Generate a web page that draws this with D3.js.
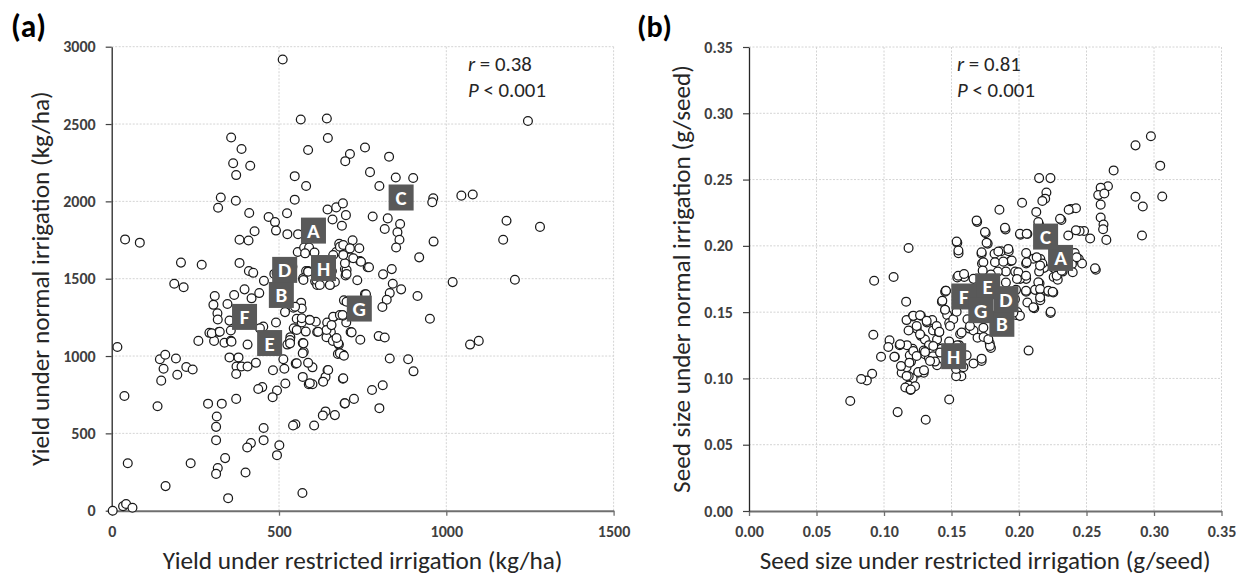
<!DOCTYPE html>
<html><head><meta charset="utf-8">
<script src="https://cdn.jsdelivr.net/npm/d3@7"></script>
<style>
html,body{margin:0;padding:0;background:#fff;}
svg{display:block;font-family:Carlito,Lato,"Open Sans",sans-serif;}
</style></head>
<body><svg id="c" width="1236" height="575"></svg>
<script>
// ---------------- DATA ----------------
// Panel (a): yield under restricted irrigation (x) vs normal irrigation (y), kg/ha
const yieldPoints = [
[511,2917],[565,2529],[643,2536],[646,2410],[1244,2520],[357,2413],[388,2339],[363,2246],[414,2230],[372,2170],
[587,2332],[757,2348],[712,2306],[698,2260],[829,2289],[772,2189],[547,2163],[581,2099],[800,2099],[849,2154],
[901,2151],[326,2025],[318,1959],[371,2004],[411,1925],[524,1923],[547,2011],[645,1947],[671,1961],[691,1987],
[700,1911],[660,1883],[688,1842],[780,1902],[825,1890],[816,1821],[862,1854],[854,1800],[860,1752],[850,1702],
[961,2020],[958,1994],[1045,2037],[1079,2044],[1180,1875],[1170,1752],[1280,1835],[1205,1493],[1019,1478],[962,1740],
[919,1638],[914,1388],[951,1241],[1071,1074],[1097,1098],[886,979],[902,901],[831,984],[798,1129],[816,1120],
[810,811],[778,780],[800,663],[724,723],[696,694],[667,618],[639,642],[631,616],[605,551],[691,853],
[632,837],[645,908],[639,865],[600,927],[589,818],[600,818],[549,559],[542,551],[570,114],[501,423],
[494,359],[454,535],[454,456],[416,437],[405,409],[400,247],[339,340],[329,692],[288,692],[314,609],
[312,542],[312,456],[317,276],[312,238],[348,81],[236,307],[161,159],[48,307],[38,742],[137,675],
[40,1754],[84,1733],[17,1058],[3,0],[34,29],[43,43],[62,19],[207,1604],[269,1590],[187,1467],
[215,1445],[144,979],[160,1008],[155,918],[148,841],[192,984],[196,879],[223,929],[242,913],[259,1098],
[292,1150],[306,1098],[308,1388],[304,1331],[316,1276],[346,1336],[366,1395],[317,1236],[352,1229],[320,1155],
[337,1086],[356,1098],[352,991],[379,991],[373,932],[388,932],[406,932],[431,956],[372,884],[372,723],
[406,1074],[356,1165],[382,1602],[382,1752],[409,1747],[427,1807],[410,1550],[423,1538],[397,1431],[441,1407],
[455,1486],[469,1899],[488,1866],[491,1811],[525,1788],[557,1788],[556,1673],[575,1702],[590,1702],[606,1669],
[581,1550],[587,1550],[572,1502],[540,1578],[486,1531],[608,1483],[614,1460],[653,1460],[667,1479],[658,1550],
[671,1673],[680,1726],[694,1664],[720,1749],[740,1697],[742,1614],[713,1638],[697,1562],[699,1521],[734,1490],
[765,1574],[811,1528],[837,1562],[840,1467],[865,1431],[831,1407],[822,1364],[809,1317],[757,1400],[694,1360],
[701,1217],[714,1155],[743,1105],[691,1260],[663,1253],[644,1217],[655,1155],[642,1122],[661,1098],[679,1074],
[676,1013],[692,1008],[610,1222],[614,1155],[591,1234],[580,1158],[571,1084],[550,951],[587,956],[574,1027],
[513,979],[516,918],[519,822],[494,777],[481,734],[482,908],[450,799],[438,787],[491,1217],[518,1284],
[543,1312],[566,1345],[568,1307],[553,1241],[544,1179],[534,1122],[525,1074],[568,1217],[571,865],
[418,1373],[299,1147],[323,1157],[358,1093],[453,1190],[443,1179],[548,1319],[568,1244],[592,1233],[553,1168],
[533,1104],[533,1082],[573,1082],[571,1018],[553,953],[592,824],[632,834],[647,910],[692,856],[682,1018],
[677,1082],[672,1117],[642,1168],[617,1157],[662,1254],[682,1265],[702,1351],[657,1200],[578,1664],[587,1545],
[573,1492],[612,1492],[652,1459],[622,1459],[702,1556],[682,1707],[662,1653],[697,1600],[493,1535],[692,1718],
[712,1696],[692,1653],[722,1632],[745,1610],[769,1574],[702,1530],[760,1399],[690,1265],[717,1153],[694,1002],[697,694]
];
// Panel (b): seed size under restricted (x) vs normal (y) irrigation, g/seed
const seedPoints = [
[0.2977,0.2827],[0.2863,0.2758],[0.3046,0.2605],[0.2701,0.2569],[0.2863,0.2370],[0.2917,0.2297],[0.3061,0.2372],[0.2911,0.2078],
[0.2659,0.2450],[0.2605,0.2439],[0.2587,0.2383],[0.2632,0.2395],[0.2605,0.2311],[0.2605,0.2214],[0.2626,0.2161],[0.2623,0.2125],
[0.2647,0.2045],[0.2569,0.1820],[0.2527,0.2056],[0.2482,0.2112],[0.2449,0.2112],[0.2422,0.2117],[0.2443,0.1901],[0.2383,0.2278],
[0.2422,0.2284],[0.2368,0.2272],[0.2314,0.2195],[0.2149,0.2511],[0.2233,0.2511],[0.2203,0.2403],[0.2194,0.2356],[0.2173,0.2339],
[0.2128,0.2256],[0.2023,0.2325],[0.1855,0.2272],[0.1690,0.2181],[0.1900,0.2123],[0.1753,0.2095],[0.1768,0.2017],[0.2011,0.2084],
[0.2062,0.2089],[0.2149,0.2161],[0.1543,0.2023],[0.1552,0.1945],[0.1723,0.1940],[0.1726,0.1867],[0.1819,0.1940],[0.1867,0.1959],
[0.1924,0.1959],[0.1936,0.1884],[0.2053,0.1945],[0.2053,0.1867],[0.2107,0.1903],[0.2158,0.1901],[0.2185,0.1834],[0.2257,0.1834],
[0.2323,0.1806],[0.2257,0.1765],[0.2287,0.1745],[0.2413,0.1945],[0.2392,0.1862],[0.2398,0.1801],[0.2467,0.1867],[0.2173,0.1867],
[0.2149,0.1806],[0.2152,0.1718],[0.2119,0.1668],[0.2164,0.1648],[0.2218,0.1654],[0.2254,0.1648],[0.2158,0.1590],[0.2113,0.1529],
[0.2233,0.1493],[0.2071,0.1210],[0.2053,0.1751],[0.2053,0.1654],[0.2062,0.1573],[0.1972,0.1806],[0.2008,0.1751],[0.1978,0.1668],
[0.1987,0.1501],[0.1978,0.1479],[0.1903,0.1723],[0.1903,0.1806],[0.1843,0.1806],[0.1792,0.1784],[0.1663,0.1751],[0.1594,0.1765],
[0.1543,0.1762],[0.1453,0.1654],[0.1429,0.1579],[0.1453,0.1515],[0.1468,0.1479],[0.1483,0.1418],[0.1513,0.1446],[0.1618,0.1446],
[0.1633,0.1376],[0.1663,0.1362],[0.1693,0.1307],[0.1738,0.1312],[0.1783,0.1265],[0.1792,0.1229],[0.1723,0.1132],[0.1663,0.1113],
[0.1573,0.1016],[0.1534,0.1016],[0.1534,0.1071],[0.1483,0.0841],[0.1612,0.1174],[0.1557,0.1251],[0.1564,0.1335],[0.1483,0.1279],
[0.1423,0.1224],[0.1393,0.1293],[0.1363,0.1362],[0.1408,0.1349],[0.1318,0.1423],[0.1357,0.1440],[0.1273,0.1473],[0.1212,0.1468],
[0.1242,0.1376],[0.1273,0.1321],[0.1303,0.1293],[0.1333,0.1251],[0.1294,0.1210],[0.1303,0.1182],[0.1333,0.1154],[0.1363,0.1168],
[0.1393,0.1099],[0.1378,0.1127],[0.1254,0.1043],[0.1294,0.1043],[0.1212,0.1002],[0.1183,0.0946],[0.1158,0.0932],[0.1197,0.0913],
[0.1230,0.0941],[0.1200,0.1127],[0.1191,0.1174],[0.1212,0.1224],[0.1170,0.1251],[0.1116,0.1251],[0.1131,0.1043],[0.1167,0.1085],
[0.1183,0.1016],[0.1080,0.1163],[0.1041,0.1287],[0.1032,0.1237],[0.0978,0.1163],[0.0921,0.1329],[0.0912,0.1035],[0.0873,0.0985],
[0.0831,0.0996],[0.0750,0.0830],[0.1101,0.0746],[0.1309,0.0688],[0.0927,0.1737],[0.1071,0.1765],[0.1164,0.1579],[0.1167,0.1440],
[0.1182,0.1984],[0.1182,0.1362],[0.1543,0.1251],[0.1588,0.1085],
[0.1457,0.1662],[0.1432,0.1586],[0.1217,0.1472],[0.1267,0.1477],[0.1316,0.1434],[0.1242,0.1396],[0.1390,0.1396],[0.1267,0.1333],
[0.1410,0.1351],[0.1119,0.1258],[0.1077,0.1164],[0.1217,0.1207],[0.1242,0.1169],[0.1304,0.1200],[0.1365,0.1245],[0.1415,0.1195],
[0.1341,0.1131],[0.1126,0.1093],[0.1188,0.1119],[0.1168,0.1018],[0.1254,0.1048],[0.1296,0.1061],[0.1198,0.0917],
[0.1946,0.1889],[0.1995,0.1800],[0.2057,0.1876],[0.2131,0.1914],[0.2156,0.1851],[0.2052,0.1775],[0.1985,0.1750],[0.2143,0.1725],
[0.2156,0.1674],[0.2217,0.1661],[0.2249,0.1654],[0.2156,0.1611],[0.2106,0.1536],[0.2235,0.1503],[0.2052,0.1661],[0.1970,0.1598],
[0.2563,0.1831],[0.2279,0.1775],[0.2316,0.1813],[0.2427,0.1914],[0.2365,0.2078],[0.2304,0.2205],[0.2143,0.2180],[0.2007,0.2091],
[0.2057,0.2091],[0.1896,0.2136],[0.1748,0.2104],[0.1686,0.2192],[0.1538,0.2033],[0.1551,0.1965],[0.1723,0.1952],[0.1760,0.2023],
[0.1847,0.1957],[0.1921,0.1977],[0.1822,0.1876],[0.1884,0.1881],[0.1736,0.1876],[0.1731,0.1813],[0.1550,0.1775],[0.1593,0.1788],
[0.1459,0.1661],[0.1452,0.1518],[0.1538,0.1503],[0.2007,0.1472],[0.1958,0.1495],[0.1785,0.1245],[0.1723,0.1149],[0.1489,0.1396],
[0.1575,0.1346],[0.1637,0.1396],[0.1736,0.1383],[0.1773,0.1295]
];
// Labelled genotypes
const genotypeNames = ["A","B","C","D","E","F","G","H"];
const yieldLabelPos = [[603,1811],[507,1395],[865,2025],[517,1557],[472,1084],[397,1253],[740,1307],[633,1569]];
const seedLabelPos  = [[0.2308,0.1909],[0.1873,0.1412],[0.2197,0.2070],[0.1903,0.1598],[0.1768,0.1695],[0.1591,0.1618],[0.1717,0.1515],[0.1516,0.1168]];
// Axes ticks
const yieldTicksX = [0,500,1000,1500];
const yieldTicksY = [0,500,1000,1500,2000,2500,3000];
const seedTicks   = [0,0.05,0.10,0.15,0.20,0.25,0.30,0.35];
// Text
const panelTags = ["(a)","(b)"];
const xTitles = ["Yield under restricted irrigation (kg/ha)","Seed size under restricted irrigation (g/seed)"];
const yTitles = ["Yield under normal irrigation (kg/ha)","Seed size under normal irrigation (g/seed)"];
const statR = ["0.38","0.81"];
const statP = ["0.001","0.001"];

// ---------------- DRAW ----------------
const svg = d3.select("#c");
const FONT = "Carlito,Lato,sans-serif";

// scale a text's font-size so its rendered width equals a target width
function fitWidth(sel, target){
  const w = sel.node().getComputedTextLength();
  const fs = parseFloat(sel.attr("font-size"));
  if (w > 0) sel.attr("font-size", (fs*target/w).toFixed(2));
  return parseFloat(sel.attr("font-size"));
}
// font size for tick labels: "1000" bold ≈ 32.5px wide
const probe = svg.append("text").attr("font-family",FONT).attr("font-weight",700).attr("font-size",14).text("1000");
const TICK_FS = fitWidth(probe, 32.5); probe.remove();

function panel(cfg){
  const g = svg.append("g");
  const x = d3.scaleLinear().domain(cfg.xd).range([cfg.left, cfg.right]);
  const y = d3.scaleLinear().domain(cfg.yd).range([cfg.bottom, cfg.top]);
  // grid
  g.append("g").selectAll("line").data(cfg.xt.filter(d=>d!==0)).join("line")
    .attr("x1",d=>x(d)).attr("x2",d=>x(d)).attr("y1",cfg.top).attr("y2",cfg.bottom)
    .attr("stroke","#d4d4d4").attr("stroke-width",1).attr("stroke-dasharray","2,1.5");
  g.append("g").selectAll("line").data(cfg.yt.filter(d=>d!==0)).join("line")
    .attr("x1",cfg.left).attr("x2",cfg.right).attr("y1",d=>y(d)).attr("y2",d=>y(d))
    .attr("stroke","#d4d4d4").attr("stroke-width",1).attr("stroke-dasharray","2,1.5");
  // axes
  const ax = g.append("g").attr("transform",`translate(0,${cfg.bottom})`)
    .call(d3.axisBottom(x).tickValues(cfg.xt).tickFormat(cfg.fmt).tickSizeInner(5).tickSizeOuter(0).tickPadding(10));
  ax.select(".domain").attr("stroke","#6f6f6f").attr("stroke-width",2);
  ax.selectAll(".tick line").attr("stroke","#6f6f6f").attr("stroke-width",1.3);
  const ay = g.append("g").attr("transform",`translate(${cfg.left},0)`)
    .call(d3.axisLeft(y).tickValues(cfg.yt).tickFormat(cfg.fmt).tickSizeInner(6).tickSizeOuter(0).tickPadding(10));
  ay.select(".domain").attr("stroke","#262626").attr("stroke-width",1.3);
  ay.selectAll(".tick line").attr("stroke","#404040").attr("stroke-width",1.2);
  g.selectAll(".tick text").attr("font-family",FONT).attr("font-size",TICK_FS)
    .attr("font-weight",700).attr("fill","#404040");
  // points
  g.append("g").selectAll("circle").data(cfg.pts).join("circle")
    .attr("cx",d=>x(d[0])).attr("cy",d=>y(d[1])).attr("r",4.4)
    .attr("fill","#fff").attr("stroke","#1a1a1a").attr("stroke-width",1.25);
  // labels
  const lab = g.append("g").selectAll("g").data(cfg.labels).join("g")
    .attr("transform",d=>`translate(${x(d.p[0])},${y(d.p[1])})`);
  lab.append("rect").attr("x",-12.5).attr("y",-13).attr("width",25).attr("height",26).attr("fill","#595959");
  lab.append("text").attr("text-anchor","middle").attr("y",7.5).attr("fill","#fff")
    .attr("font-size",21).attr("font-weight",700).text(d=>d.n);
  // titles
  const xt = svg.append("text").attr("x",(cfg.left+cfg.right)/2).attr("y",569).attr("text-anchor","middle")
    .attr("font-size",20).attr("fill","#262626").text(cfg.xtitle);
  fitWidth(xt, cfg.xtw);
  const yt = svg.append("text").attr("transform",`translate(${cfg.ytx},${(cfg.top+cfg.bottom)/2}) rotate(-90)`)
    .attr("text-anchor","middle").attr("font-size",20).attr("fill","#262626").text(cfg.ytitle);
  fitWidth(yt, cfg.ytw);
  const tg = svg.append("text").attr("x",cfg.tagx).attr("y",37).attr("font-size",26).attr("font-weight",700)
    .attr("fill","#000").text(cfg.tag);
  fitWidth(tg, 35);
  // stats
  const sp = svg.append("text").attr("x",cfg.statx).attr("y",97).attr("font-size",18).attr("fill","#262626");
  sp.append("tspan").attr("font-style","italic").text("P");
  sp.append("tspan").text(" < " + cfg.p);
  const sfs = fitWidth(sp, 78);
  const st = svg.append("text").attr("x",cfg.statx).attr("y",71).attr("font-size",sfs).attr("fill","#262626");
  st.append("tspan").attr("font-style","italic").text("r");
  st.append("tspan").text(" = " + cfg.r);
}

panel({xd:[0,1500], yd:[0,3000], left:111.7, right:613.6, top:46.7, bottom:510.7,
  xt:yieldTicksX, yt:yieldTicksY, fmt:d3.format("d"), pts:yieldPoints,
  labels:genotypeNames.map((n,i)=>({n, p:yieldLabelPos[i]})),
  xtitle:xTitles[0], xtw:400, ytitle:yTitles[0], ytw:375, ytx:49, tag:panelTags[0], tagx:11,
  statx:468, r:statR[0], p:statP[0]});
panel({xd:[0,0.35], yd:[0,0.35], left:749, right:1221.5, top:47, bottom:511,
  xt:seedTicks, yt:seedTicks, fmt:d3.format(".2f"), pts:seedPoints,
  labels:genotypeNames.map((n,i)=>({n, p:seedLabelPos[i]})),
  xtitle:xTitles[1], xtw:451, ytitle:yTitles[1], ytw:428, ytx:690, tag:panelTags[1], tagx:637,
  statx:957, r:statR[1], p:statP[1]});
</script></body></html>
